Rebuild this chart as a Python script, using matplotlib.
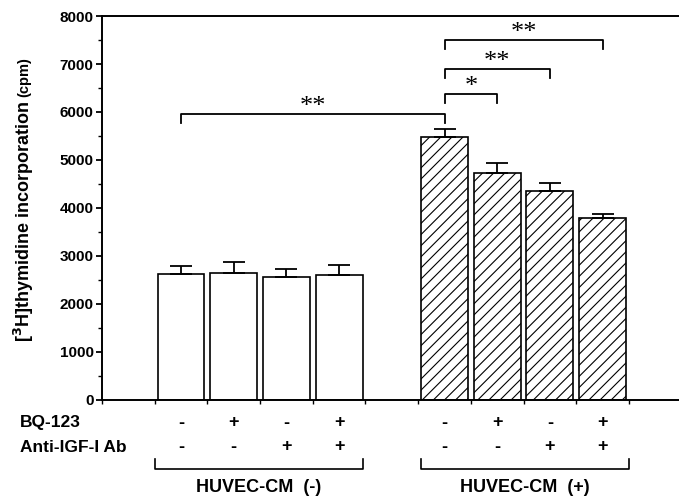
import matplotlib
matplotlib.use('Agg')
import matplotlib.pyplot as plt
import matplotlib.transforms as mtransforms

plt.rcParams['font.family'] = ['Liberation Sans', 'DejaVu Sans']
plt.rcParams['font.weight'] = 'bold'
plt.rcParams['hatch.linewidth'] = 0.8

# ---------------- data ----------------
bar_pos    = [1.5, 2.5, 3.5, 4.5, 6.5, 7.5, 8.5, 9.5]
values     = [2625, 2646, 2562, 2604, 5479, 4729, 4354, 3792]
errors     = [165, 229, 167, 208, 167, 208, 167, 83]
hatched    = [False, False, False, False, True, True, True, True]
bq123      = ['-', '+', '-', '+', '-', '+', '-', '+']
anti_igf   = ['-', '-', '+', '+', '-', '-', '+', '+']
row_names  = ['BQ-123', 'Anti-IGF-I Ab']
groups     = ['HUVEC-CM  (-)', 'HUVEC-CM  (+)']
group_span = [(1.0, 4.95), (6.05, 10.0)]

# significance brackets: (x1, x2, top, drop, label)
sig = [
    (1.5, 6.5, 5958, 187, '**'),
    (6.5, 7.5, 6375, 187, '*'),
    (6.5, 8.5, 6896, 188, '**'),
    (6.5, 9.5, 7500, 187, '**'),
]

fig = plt.figure(figsize=(6.79, 4.97), dpi=100)
ax = fig.add_axes([0.1502, 0.1952, 0.8498, 0.7726])

for x, v, e, h in zip(bar_pos, values, errors, hatched):
    ax.bar(x, v, width=0.89, color='white', edgecolor='black', linewidth=1.2,
           hatch='///' if h else None, zorder=2)
    ax.errorbar(x, v, yerr=[[0], [e]], fmt='none', ecolor='black',
                elinewidth=1.3, capsize=8, capthick=1.3, zorder=3)

ax.set_xlim(0, 10.95)
ax.set_ylim(0, 8000)
ax.set_xticks(range(11))
ax.set_xticklabels([])
ax.set_yticks(range(0, 8001, 1000))
ax.set_yticks(range(500, 8000, 1000), minor=True)
ax.tick_params(axis='y', which='major', length=4, width=1.3, labelsize=11, pad=2)
ax.tick_params(axis='y', which='minor', length=3, width=1.0)
ax.tick_params(axis='x', which='major', length=3, width=1.0)
for lab in ax.get_yticklabels():
    lab.set_fontweight('bold')
ax.spines['right'].set_visible(False)
for s in ['left', 'bottom', 'top']:
    ax.spines[s].set_linewidth(1.4)

# significance brackets
for x1, x2, top, drop, lab in sig:
    ax.plot([x1, x1, x2, x2], [top - drop, top, top, top - drop],
            color='black', lw=1.3, clip_on=False, zorder=4)
    ax.text((x1 + x2) / 2, top + 30, lab, ha='center', va='baseline',
            fontsize=19, family='Liberation Serif', fontweight='normal')

# table below the axis
trans = mtransforms.blended_transform_factory(ax.transData, fig.transFigure)
row_y = [1 - 423 / 497, 1 - 447 / 497]
for ry, name, signs in zip(row_y, row_names, [bq123, anti_igf]):
    fig.text(20 / 679, ry, name, ha='left', va='center', fontsize=12.5, fontweight='bold')
    for x, s in zip(bar_pos, signs):
        ax.text(x, ry, s, transform=trans, ha='center', va='center',
                fontsize=13, fontweight='bold')

y_top = 1 - 459 / 497
y_bot = 1 - 469 / 497
for (g0, g1), name in zip(group_span, groups):
    ax.plot([g0, g0, g1, g1], [y_top, y_bot, y_bot, y_top], transform=trans,
            color='black', lw=1.2, clip_on=False)
    ax.text((g0 + g1) / 2, 1 - 488 / 497, name, transform=trans, ha='center',
            va='center', fontsize=13, fontweight='bold')

# y label
fig.text(24 / 679, 1 - 342 / 497, '[$\\mathbf{^{3}}$H]thymidine incorporation', rotation=90,
         ha='center', va='bottom', fontsize=13, fontweight='bold')
fig.text(24 / 679, 1 - 57 / 497, '(cpm)', rotation=90,
         ha='center', va='top', fontsize=10.5, fontweight='bold')

fig.savefig('out.png', dpi=100)
